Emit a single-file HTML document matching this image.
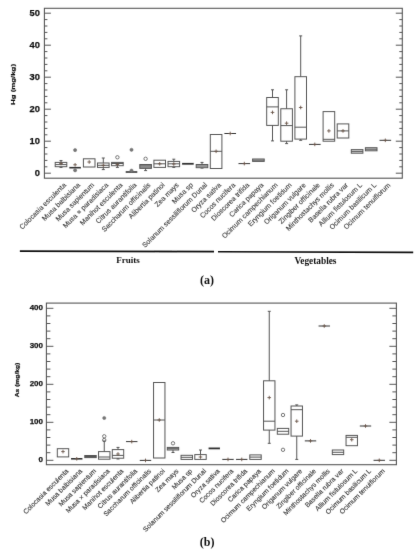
<!DOCTYPE html>
<html><head><meta charset="utf-8"><style>
html,body{margin:0;padding:0;background:#fff;}
body{width:416px;height:550px;overflow:hidden;}
svg{display:block;font-family:"Liberation Sans",sans-serif;}
</style></head><body>
<svg width="416" height="550" viewBox="0 0 416 550">
<defs><filter id="bl" x="0" y="0" width="416" height="550" filterUnits="userSpaceOnUse"><feConvolveMatrix order="3" kernelMatrix="0.00524 0.06192 0.00524 0.06192 0.73137 0.06192 0.00524 0.06192 0.00524" divisor="1" preserveAlpha="false" edgeMode="none"/></filter></defs>
<rect width="416" height="550" fill="#fff"/>
<g filter="url(#bl)">
<rect x="44.4" y="8.3" width="357.90000000000003" height="169.89999999999998" fill="none" stroke="#555" stroke-width="1.1"/>
<line x1="44.4" y1="173.20" x2="50.9" y2="173.20" stroke="#555" stroke-width="1"/>
<line x1="402.3" y1="173.20" x2="395.8" y2="173.20" stroke="#555" stroke-width="1"/>
<text transform="translate(39.8,175.85) scale(1,1.0)" font-size="9.3" font-weight="bold" text-anchor="end" fill="#111" stroke="#111" stroke-width="0.25">0</text>
<line x1="44.4" y1="166.80" x2="47.4" y2="166.80" stroke="#555" stroke-width="1"/>
<line x1="402.3" y1="166.80" x2="399.3" y2="166.80" stroke="#555" stroke-width="1"/>
<line x1="44.4" y1="160.40" x2="47.4" y2="160.40" stroke="#555" stroke-width="1"/>
<line x1="402.3" y1="160.40" x2="399.3" y2="160.40" stroke="#555" stroke-width="1"/>
<line x1="44.4" y1="154.00" x2="47.4" y2="154.00" stroke="#555" stroke-width="1"/>
<line x1="402.3" y1="154.00" x2="399.3" y2="154.00" stroke="#555" stroke-width="1"/>
<line x1="44.4" y1="147.60" x2="47.4" y2="147.60" stroke="#555" stroke-width="1"/>
<line x1="402.3" y1="147.60" x2="399.3" y2="147.60" stroke="#555" stroke-width="1"/>
<line x1="44.4" y1="141.20" x2="50.9" y2="141.20" stroke="#555" stroke-width="1"/>
<line x1="402.3" y1="141.20" x2="395.8" y2="141.20" stroke="#555" stroke-width="1"/>
<text transform="translate(39.8,143.85) scale(1,1.0)" font-size="9.3" font-weight="bold" text-anchor="end" fill="#111" stroke="#111" stroke-width="0.25">10</text>
<line x1="44.4" y1="134.80" x2="47.4" y2="134.80" stroke="#555" stroke-width="1"/>
<line x1="402.3" y1="134.80" x2="399.3" y2="134.80" stroke="#555" stroke-width="1"/>
<line x1="44.4" y1="128.40" x2="47.4" y2="128.40" stroke="#555" stroke-width="1"/>
<line x1="402.3" y1="128.40" x2="399.3" y2="128.40" stroke="#555" stroke-width="1"/>
<line x1="44.4" y1="122.00" x2="47.4" y2="122.00" stroke="#555" stroke-width="1"/>
<line x1="402.3" y1="122.00" x2="399.3" y2="122.00" stroke="#555" stroke-width="1"/>
<line x1="44.4" y1="115.60" x2="47.4" y2="115.60" stroke="#555" stroke-width="1"/>
<line x1="402.3" y1="115.60" x2="399.3" y2="115.60" stroke="#555" stroke-width="1"/>
<line x1="44.4" y1="109.20" x2="50.9" y2="109.20" stroke="#555" stroke-width="1"/>
<line x1="402.3" y1="109.20" x2="395.8" y2="109.20" stroke="#555" stroke-width="1"/>
<text transform="translate(39.8,111.85) scale(1,1.0)" font-size="9.3" font-weight="bold" text-anchor="end" fill="#111" stroke="#111" stroke-width="0.25">20</text>
<line x1="44.4" y1="102.80" x2="47.4" y2="102.80" stroke="#555" stroke-width="1"/>
<line x1="402.3" y1="102.80" x2="399.3" y2="102.80" stroke="#555" stroke-width="1"/>
<line x1="44.4" y1="96.40" x2="47.4" y2="96.40" stroke="#555" stroke-width="1"/>
<line x1="402.3" y1="96.40" x2="399.3" y2="96.40" stroke="#555" stroke-width="1"/>
<line x1="44.4" y1="90.00" x2="47.4" y2="90.00" stroke="#555" stroke-width="1"/>
<line x1="402.3" y1="90.00" x2="399.3" y2="90.00" stroke="#555" stroke-width="1"/>
<line x1="44.4" y1="83.60" x2="47.4" y2="83.60" stroke="#555" stroke-width="1"/>
<line x1="402.3" y1="83.60" x2="399.3" y2="83.60" stroke="#555" stroke-width="1"/>
<line x1="44.4" y1="77.20" x2="50.9" y2="77.20" stroke="#555" stroke-width="1"/>
<line x1="402.3" y1="77.20" x2="395.8" y2="77.20" stroke="#555" stroke-width="1"/>
<text transform="translate(39.8,79.85) scale(1,1.0)" font-size="9.3" font-weight="bold" text-anchor="end" fill="#111" stroke="#111" stroke-width="0.25">30</text>
<line x1="44.4" y1="70.80" x2="47.4" y2="70.80" stroke="#555" stroke-width="1"/>
<line x1="402.3" y1="70.80" x2="399.3" y2="70.80" stroke="#555" stroke-width="1"/>
<line x1="44.4" y1="64.40" x2="47.4" y2="64.40" stroke="#555" stroke-width="1"/>
<line x1="402.3" y1="64.40" x2="399.3" y2="64.40" stroke="#555" stroke-width="1"/>
<line x1="44.4" y1="58.00" x2="47.4" y2="58.00" stroke="#555" stroke-width="1"/>
<line x1="402.3" y1="58.00" x2="399.3" y2="58.00" stroke="#555" stroke-width="1"/>
<line x1="44.4" y1="51.60" x2="47.4" y2="51.60" stroke="#555" stroke-width="1"/>
<line x1="402.3" y1="51.60" x2="399.3" y2="51.60" stroke="#555" stroke-width="1"/>
<line x1="44.4" y1="45.20" x2="50.9" y2="45.20" stroke="#555" stroke-width="1"/>
<line x1="402.3" y1="45.20" x2="395.8" y2="45.20" stroke="#555" stroke-width="1"/>
<text transform="translate(39.8,47.85) scale(1,1.0)" font-size="9.3" font-weight="bold" text-anchor="end" fill="#111" stroke="#111" stroke-width="0.25">40</text>
<line x1="44.4" y1="38.80" x2="47.4" y2="38.80" stroke="#555" stroke-width="1"/>
<line x1="402.3" y1="38.80" x2="399.3" y2="38.80" stroke="#555" stroke-width="1"/>
<line x1="44.4" y1="32.40" x2="47.4" y2="32.40" stroke="#555" stroke-width="1"/>
<line x1="402.3" y1="32.40" x2="399.3" y2="32.40" stroke="#555" stroke-width="1"/>
<line x1="44.4" y1="26.00" x2="47.4" y2="26.00" stroke="#555" stroke-width="1"/>
<line x1="402.3" y1="26.00" x2="399.3" y2="26.00" stroke="#555" stroke-width="1"/>
<line x1="44.4" y1="19.60" x2="47.4" y2="19.60" stroke="#555" stroke-width="1"/>
<line x1="402.3" y1="19.60" x2="399.3" y2="19.60" stroke="#555" stroke-width="1"/>
<line x1="44.4" y1="13.20" x2="50.9" y2="13.20" stroke="#555" stroke-width="1"/>
<line x1="402.3" y1="13.20" x2="395.8" y2="13.20" stroke="#555" stroke-width="1"/>
<text transform="translate(39.8,15.85) scale(1,1.0)" font-size="9.3" font-weight="bold" text-anchor="end" fill="#111" stroke="#111" stroke-width="0.25">50</text>
<text transform="translate(15.2,84.5) rotate(-90)" font-size="6.2" font-weight="bold" text-anchor="middle" fill="#111" stroke="#111" stroke-width="0.2" textLength="41" lengthAdjust="spacingAndGlyphs">Hg (mg/kg)</text>
<text transform="translate(66.50,185.50) rotate(-45)" font-size="7.0" text-anchor="end" fill="#3a3a3a" stroke="#3a3a3a" stroke-width="0.12">Colocasia esculenta</text>
<text transform="translate(80.60,185.50) rotate(-45)" font-size="7.0" text-anchor="end" fill="#3a3a3a" stroke="#3a3a3a" stroke-width="0.12">Musa balbisiana</text>
<text transform="translate(94.70,185.50) rotate(-45)" font-size="7.0" text-anchor="end" fill="#3a3a3a" stroke="#3a3a3a" stroke-width="0.12">Musa sapientum</text>
<text transform="translate(108.80,185.50) rotate(-45)" font-size="7.0" text-anchor="end" fill="#3a3a3a" stroke="#3a3a3a" stroke-width="0.12">Musa × paradisiaca</text>
<text transform="translate(122.90,185.50) rotate(-45)" font-size="7.0" text-anchor="end" fill="#3a3a3a" stroke="#3a3a3a" stroke-width="0.12">Manihot esculenta</text>
<text transform="translate(137.00,185.50) rotate(-45)" font-size="7.0" text-anchor="end" fill="#3a3a3a" stroke="#3a3a3a" stroke-width="0.12">Citrus aurantifolia</text>
<text transform="translate(151.10,185.50) rotate(-45)" font-size="7.0" text-anchor="end" fill="#3a3a3a" stroke="#3a3a3a" stroke-width="0.12">Saccharum officinalis</text>
<text transform="translate(165.20,185.50) rotate(-45)" font-size="7.0" text-anchor="end" fill="#3a3a3a" stroke="#3a3a3a" stroke-width="0.12">Alibertia patinoi</text>
<text transform="translate(179.30,185.50) rotate(-45)" font-size="7.0" text-anchor="end" fill="#3a3a3a" stroke="#3a3a3a" stroke-width="0.12">Zea mays</text>
<text transform="translate(193.40,185.50) rotate(-45)" font-size="7.0" text-anchor="end" fill="#3a3a3a" stroke="#3a3a3a" stroke-width="0.12">Musa sp</text>
<text transform="translate(207.50,185.50) rotate(-45)" font-size="7.0" text-anchor="end" fill="#3a3a3a" stroke="#3a3a3a" stroke-width="0.12">Solanum sessiliflorum Dunal</text>
<text transform="translate(221.60,185.50) rotate(-45)" font-size="7.0" text-anchor="end" fill="#3a3a3a" stroke="#3a3a3a" stroke-width="0.12">Oryza sativa</text>
<text transform="translate(235.70,185.50) rotate(-45)" font-size="7.0" text-anchor="end" fill="#3a3a3a" stroke="#3a3a3a" stroke-width="0.12">Cocos nucifera</text>
<text transform="translate(249.80,185.50) rotate(-45)" font-size="7.0" text-anchor="end" fill="#3a3a3a" stroke="#3a3a3a" stroke-width="0.12">Dioscorea trifida</text>
<text transform="translate(263.90,185.50) rotate(-45)" font-size="7.0" text-anchor="end" fill="#3a3a3a" stroke="#3a3a3a" stroke-width="0.12">Carica papaya</text>
<text transform="translate(278.00,185.50) rotate(-45)" font-size="7.0" text-anchor="end" fill="#3a3a3a" stroke="#3a3a3a" stroke-width="0.12">Ocimum campechianum</text>
<text transform="translate(292.10,185.50) rotate(-45)" font-size="7.0" text-anchor="end" fill="#3a3a3a" stroke="#3a3a3a" stroke-width="0.12">Eryngium foetidum</text>
<text transform="translate(306.20,185.50) rotate(-45)" font-size="7.0" text-anchor="end" fill="#3a3a3a" stroke="#3a3a3a" stroke-width="0.12">Origanum vulgare</text>
<text transform="translate(320.30,185.50) rotate(-45)" font-size="7.0" text-anchor="end" fill="#3a3a3a" stroke="#3a3a3a" stroke-width="0.12">Zingiber officinale</text>
<text transform="translate(334.40,185.50) rotate(-45)" font-size="7.0" text-anchor="end" fill="#3a3a3a" stroke="#3a3a3a" stroke-width="0.12">Minthostachys mollis</text>
<text transform="translate(348.50,185.50) rotate(-45)" font-size="7.0" text-anchor="end" fill="#3a3a3a" stroke="#3a3a3a" stroke-width="0.12">Basella rubra var</text>
<text transform="translate(362.60,185.50) rotate(-45)" font-size="7.0" text-anchor="end" fill="#3a3a3a" stroke="#3a3a3a" stroke-width="0.12">Allium fistulosum L</text>
<text transform="translate(376.70,185.50) rotate(-45)" font-size="7.0" text-anchor="end" fill="#3a3a3a" stroke="#3a3a3a" stroke-width="0.12">Ocimum basilicum L</text>
<text transform="translate(390.80,185.50) rotate(-45)" font-size="7.0" text-anchor="end" fill="#3a3a3a" stroke="#3a3a3a" stroke-width="0.12">Ocimum tenuiflorum</text>
<line x1="61.0" y1="160.6" x2="61.0" y2="162.4" stroke="#555" stroke-width="1"/>
<line x1="59.5" y1="160.6" x2="62.5" y2="160.6" stroke="#555" stroke-width="1"/>
<line x1="61.0" y1="166.7" x2="61.0" y2="167.4" stroke="#555" stroke-width="1"/>
<line x1="59.5" y1="167.4" x2="62.5" y2="167.4" stroke="#555" stroke-width="1"/>
<rect x="55.20" y="162.4" width="11.6" height="4.30" fill="none" stroke="#555" stroke-width="1"/>
<line x1="55.20" y1="164.6" x2="66.80" y2="164.6" stroke="#555" stroke-width="1"/>
<path d="M59.2 163.5H62.8M61.0 161.7V165.3" stroke="#6a5548" stroke-width="0.9"/>
<line x1="69.30" y1="167.7" x2="80.90" y2="167.7" stroke="#333" stroke-width="1.6"/>
<path d="M73.3 164.8H76.89999999999999M75.1 163.0V166.60000000000002" stroke="#6a5548" stroke-width="0.9"/>
<circle cx="75.1" cy="150.1" r="1.6" fill="#777" stroke="#666" stroke-width="0.5"/>
<circle cx="75.1" cy="170.3" r="1.6" fill="#777" stroke="#666" stroke-width="0.5"/>
<rect x="83.40" y="158.8" width="11.6" height="8.20" fill="none" stroke="#555" stroke-width="1"/>
<path d="M87.4 162H91.0M89.2 160.2V163.8" stroke="#6a5548" stroke-width="0.9"/>
<line x1="103.3" y1="158" x2="103.3" y2="163" stroke="#555" stroke-width="1"/>
<line x1="101.8" y1="158" x2="104.8" y2="158" stroke="#555" stroke-width="1"/>
<line x1="103.3" y1="167.4" x2="103.3" y2="169.6" stroke="#555" stroke-width="1"/>
<line x1="101.8" y1="169.6" x2="104.8" y2="169.6" stroke="#555" stroke-width="1"/>
<rect x="97.50" y="163" width="11.6" height="4.40" fill="none" stroke="#555" stroke-width="1"/>
<line x1="97.50" y1="165.3" x2="109.10" y2="165.3" stroke="#555" stroke-width="1"/>
<path d="M101.5 165.3H105.1M103.3 163.5V167.10000000000002" stroke="#6a5548" stroke-width="0.9"/>
<line x1="117.4" y1="165.7" x2="117.4" y2="167.4" stroke="#555" stroke-width="1"/>
<line x1="115.9" y1="167.4" x2="118.9" y2="167.4" stroke="#555" stroke-width="1"/>
<rect x="111.60" y="162.4" width="11.6" height="3.30" fill="none" stroke="#555" stroke-width="1"/>
<line x1="111.60" y1="163.5" x2="123.20" y2="163.5" stroke="#555" stroke-width="1"/>
<path d="M115.60000000000001 164.5H119.2M117.4 162.7V166.3" stroke="#6a5548" stroke-width="0.9"/>
<circle cx="117.4" cy="157.3" r="1.7" fill="none" stroke="#555" stroke-width="0.8"/>
<line x1="125.70" y1="172" x2="137.30" y2="172" stroke="#333" stroke-width="1.6"/>
<circle cx="131.5" cy="149.8" r="1.6" fill="#777" stroke="#666" stroke-width="0.5"/>
<circle cx="131.5" cy="170.6" r="1.6" fill="#777" stroke="#666" stroke-width="0.5"/>
<line x1="145.6" y1="168.4" x2="145.6" y2="170.6" stroke="#555" stroke-width="1"/>
<line x1="144.1" y1="170.6" x2="147.1" y2="170.6" stroke="#555" stroke-width="1"/>
<rect x="139.80" y="164.5" width="11.6" height="3.90" fill="#d8d8d8" stroke="#555" stroke-width="1"/>
<line x1="139.80" y1="165.8" x2="151.40" y2="165.8" stroke="#555" stroke-width="1"/>
<line x1="139.80" y1="167.1" x2="151.40" y2="167.1" stroke="#555" stroke-width="1"/>
<circle cx="145.6" cy="158.8" r="1.7" fill="none" stroke="#555" stroke-width="0.8"/>
<rect x="153.90" y="160.2" width="11.6" height="7.20" fill="none" stroke="#555" stroke-width="1"/>
<line x1="153.90" y1="163.8" x2="165.50" y2="163.8" stroke="#555" stroke-width="1"/>
<path d="M157.89999999999998 163.8H161.5M159.7 162.0V165.60000000000002" stroke="#6a5548" stroke-width="0.9"/>
<line x1="173.8" y1="159.2" x2="173.8" y2="161.4" stroke="#555" stroke-width="1"/>
<line x1="172.3" y1="159.2" x2="175.3" y2="159.2" stroke="#555" stroke-width="1"/>
<line x1="173.8" y1="166.7" x2="173.8" y2="167.4" stroke="#555" stroke-width="1"/>
<line x1="172.3" y1="167.4" x2="175.3" y2="167.4" stroke="#555" stroke-width="1"/>
<rect x="168.00" y="161.4" width="11.6" height="5.30" fill="none" stroke="#555" stroke-width="1"/>
<line x1="168.00" y1="163.8" x2="179.60" y2="163.8" stroke="#555" stroke-width="1"/>
<path d="M172.0 164H175.60000000000002M173.8 162.2V165.8" stroke="#6a5548" stroke-width="0.9"/>
<line x1="182.10" y1="163.8" x2="193.70" y2="163.8" stroke="#333" stroke-width="1.8"/>
<line x1="202.0" y1="162.4" x2="202.0" y2="164.5" stroke="#555" stroke-width="1"/>
<line x1="200.5" y1="162.4" x2="203.5" y2="162.4" stroke="#555" stroke-width="1"/>
<line x1="202.0" y1="167.7" x2="202.0" y2="168.1" stroke="#555" stroke-width="1"/>
<line x1="200.5" y1="168.1" x2="203.5" y2="168.1" stroke="#555" stroke-width="1"/>
<rect x="196.20" y="164.5" width="11.6" height="3.20" fill="#d4d4d4" stroke="#555" stroke-width="1"/>
<line x1="196.20" y1="166" x2="207.80" y2="166" stroke="#555" stroke-width="1"/>
<rect x="210.30" y="134.5" width="11.6" height="34.00" fill="none" stroke="#555" stroke-width="1"/>
<line x1="210.30" y1="151.3" x2="221.90" y2="151.3" stroke="#555" stroke-width="1"/>
<path d="M214.29999999999998 151.3H217.9M216.1 149.5V153.10000000000002" stroke="#6a5548" stroke-width="0.9"/>
<line x1="224.40" y1="133.5" x2="236.00" y2="133.5" stroke="#333" stroke-width="1"/>
<path d="M228.39999999999998 133.5H232.0M230.2 131.7V135.3" stroke="#6a5548" stroke-width="0.9"/>
<line x1="238.50" y1="163.6" x2="250.10" y2="163.6" stroke="#333" stroke-width="1"/>
<path d="M242.49999999999997 163.6H246.1M244.29999999999998 161.79999999999998V165.4" stroke="#6a5548" stroke-width="0.9"/>
<rect x="252.60" y="159" width="11.6" height="2.40" fill="#d8d8d8" stroke="#555" stroke-width="1"/>
<line x1="252.60" y1="160.2" x2="264.20" y2="160.2" stroke="#555" stroke-width="1"/>
<line x1="272.5" y1="89.8" x2="272.5" y2="97.5" stroke="#555" stroke-width="1"/>
<line x1="271.0" y1="89.8" x2="274.0" y2="89.8" stroke="#555" stroke-width="1"/>
<line x1="272.5" y1="125.4" x2="272.5" y2="140.9" stroke="#555" stroke-width="1"/>
<line x1="271.0" y1="140.9" x2="274.0" y2="140.9" stroke="#555" stroke-width="1"/>
<rect x="266.70" y="97.5" width="11.6" height="27.90" fill="none" stroke="#555" stroke-width="1"/>
<line x1="266.70" y1="106.9" x2="278.30" y2="106.9" stroke="#555" stroke-width="1"/>
<path d="M270.7 112.4H274.3M272.5 110.60000000000001V114.2" stroke="#6a5548" stroke-width="0.9"/>
<line x1="286.6" y1="89.8" x2="286.6" y2="108.75" stroke="#555" stroke-width="1"/>
<line x1="285.1" y1="89.8" x2="288.1" y2="89.8" stroke="#555" stroke-width="1"/>
<line x1="286.6" y1="141.2" x2="286.6" y2="143.6" stroke="#555" stroke-width="1"/>
<line x1="285.1" y1="143.6" x2="288.1" y2="143.6" stroke="#555" stroke-width="1"/>
<rect x="280.80" y="108.75" width="11.6" height="32.45" fill="none" stroke="#555" stroke-width="1"/>
<line x1="280.80" y1="125.6" x2="292.40" y2="125.6" stroke="#555" stroke-width="1"/>
<path d="M284.8 123.2H288.40000000000003M286.6 121.4V125.0" stroke="#6a5548" stroke-width="0.9"/>
<line x1="300.7" y1="35.9" x2="300.7" y2="76.7" stroke="#555" stroke-width="1"/>
<line x1="299.2" y1="35.9" x2="302.2" y2="35.9" stroke="#555" stroke-width="1"/>
<line x1="300.7" y1="139.1" x2="300.7" y2="140.3" stroke="#555" stroke-width="1"/>
<line x1="299.2" y1="140.3" x2="302.2" y2="140.3" stroke="#555" stroke-width="1"/>
<rect x="294.90" y="76.7" width="11.6" height="62.40" fill="none" stroke="#555" stroke-width="1"/>
<line x1="294.90" y1="127.2" x2="306.50" y2="127.2" stroke="#555" stroke-width="1"/>
<path d="M298.9 107.5H302.5M300.7 105.7V109.3" stroke="#6a5548" stroke-width="0.9"/>
<line x1="309.00" y1="144.4" x2="320.60" y2="144.4" stroke="#333" stroke-width="1"/>
<path d="M312.99999999999994 144.4H316.59999999999997M314.79999999999995 142.6V146.20000000000002" stroke="#6a5548" stroke-width="0.9"/>
<rect x="323.10" y="111.6" width="11.6" height="29.60" fill="none" stroke="#555" stroke-width="1"/>
<line x1="323.10" y1="139.3" x2="334.70" y2="139.3" stroke="#555" stroke-width="1"/>
<path d="M327.09999999999997 130.9H330.7M328.9 129.1V132.70000000000002" stroke="#6a5548" stroke-width="0.9"/>
<rect x="337.20" y="123.9" width="11.6" height="14.10" fill="none" stroke="#555" stroke-width="1"/>
<line x1="337.20" y1="130.9" x2="348.80" y2="130.9" stroke="#555" stroke-width="1"/>
<path d="M341.2 130.9H344.8M343.0 129.1V132.70000000000002" stroke="#6a5548" stroke-width="0.9"/>
<rect x="351.30" y="149.6" width="11.6" height="3.60" fill="#d4d4d4" stroke="#555" stroke-width="1"/>
<line x1="351.30" y1="151.4" x2="362.90" y2="151.4" stroke="#555" stroke-width="1"/>
<rect x="365.40" y="147.7" width="11.6" height="3.10" fill="#d4d4d4" stroke="#555" stroke-width="1"/>
<line x1="365.40" y1="149.2" x2="377.00" y2="149.2" stroke="#555" stroke-width="1"/>
<line x1="379.50" y1="140.3" x2="391.10" y2="140.3" stroke="#333" stroke-width="1"/>
<path d="M383.5 140.3H387.1M385.3 138.5V142.10000000000002" stroke="#6a5548" stroke-width="0.9"/>
<rect x="46.4" y="303.1" width="350.0" height="161.59999999999997" fill="none" stroke="#555" stroke-width="1.1"/>
<line x1="46.4" y1="460.30" x2="53.4" y2="460.30" stroke="#555" stroke-width="1"/>
<line x1="396.4" y1="460.30" x2="389.4" y2="460.30" stroke="#555" stroke-width="1"/>
<text transform="translate(43.0,462.48) scale(1,1.0)" font-size="8" font-weight="bold" text-anchor="end" fill="#111" stroke="#111" stroke-width="0.25">0</text>
<line x1="46.4" y1="452.70" x2="50.4" y2="452.70" stroke="#555" stroke-width="1"/>
<line x1="396.4" y1="452.70" x2="392.4" y2="452.70" stroke="#555" stroke-width="1"/>
<line x1="46.4" y1="445.10" x2="50.4" y2="445.10" stroke="#555" stroke-width="1"/>
<line x1="396.4" y1="445.10" x2="392.4" y2="445.10" stroke="#555" stroke-width="1"/>
<line x1="46.4" y1="437.50" x2="50.4" y2="437.50" stroke="#555" stroke-width="1"/>
<line x1="396.4" y1="437.50" x2="392.4" y2="437.50" stroke="#555" stroke-width="1"/>
<line x1="46.4" y1="429.90" x2="50.4" y2="429.90" stroke="#555" stroke-width="1"/>
<line x1="396.4" y1="429.90" x2="392.4" y2="429.90" stroke="#555" stroke-width="1"/>
<line x1="46.4" y1="422.30" x2="53.4" y2="422.30" stroke="#555" stroke-width="1"/>
<line x1="396.4" y1="422.30" x2="389.4" y2="422.30" stroke="#555" stroke-width="1"/>
<text transform="translate(43.0,424.48) scale(1,1.0)" font-size="8" font-weight="bold" text-anchor="end" fill="#111" stroke="#111" stroke-width="0.25">100</text>
<line x1="46.4" y1="414.70" x2="50.4" y2="414.70" stroke="#555" stroke-width="1"/>
<line x1="396.4" y1="414.70" x2="392.4" y2="414.70" stroke="#555" stroke-width="1"/>
<line x1="46.4" y1="407.10" x2="50.4" y2="407.10" stroke="#555" stroke-width="1"/>
<line x1="396.4" y1="407.10" x2="392.4" y2="407.10" stroke="#555" stroke-width="1"/>
<line x1="46.4" y1="399.50" x2="50.4" y2="399.50" stroke="#555" stroke-width="1"/>
<line x1="396.4" y1="399.50" x2="392.4" y2="399.50" stroke="#555" stroke-width="1"/>
<line x1="46.4" y1="391.90" x2="50.4" y2="391.90" stroke="#555" stroke-width="1"/>
<line x1="396.4" y1="391.90" x2="392.4" y2="391.90" stroke="#555" stroke-width="1"/>
<line x1="46.4" y1="384.30" x2="53.4" y2="384.30" stroke="#555" stroke-width="1"/>
<line x1="396.4" y1="384.30" x2="389.4" y2="384.30" stroke="#555" stroke-width="1"/>
<text transform="translate(43.0,386.48) scale(1,1.0)" font-size="8" font-weight="bold" text-anchor="end" fill="#111" stroke="#111" stroke-width="0.25">200</text>
<line x1="46.4" y1="376.70" x2="50.4" y2="376.70" stroke="#555" stroke-width="1"/>
<line x1="396.4" y1="376.70" x2="392.4" y2="376.70" stroke="#555" stroke-width="1"/>
<line x1="46.4" y1="369.10" x2="50.4" y2="369.10" stroke="#555" stroke-width="1"/>
<line x1="396.4" y1="369.10" x2="392.4" y2="369.10" stroke="#555" stroke-width="1"/>
<line x1="46.4" y1="361.50" x2="50.4" y2="361.50" stroke="#555" stroke-width="1"/>
<line x1="396.4" y1="361.50" x2="392.4" y2="361.50" stroke="#555" stroke-width="1"/>
<line x1="46.4" y1="353.90" x2="50.4" y2="353.90" stroke="#555" stroke-width="1"/>
<line x1="396.4" y1="353.90" x2="392.4" y2="353.90" stroke="#555" stroke-width="1"/>
<line x1="46.4" y1="346.30" x2="53.4" y2="346.30" stroke="#555" stroke-width="1"/>
<line x1="396.4" y1="346.30" x2="389.4" y2="346.30" stroke="#555" stroke-width="1"/>
<text transform="translate(43.0,348.48) scale(1,1.0)" font-size="8" font-weight="bold" text-anchor="end" fill="#111" stroke="#111" stroke-width="0.25">300</text>
<line x1="46.4" y1="338.70" x2="50.4" y2="338.70" stroke="#555" stroke-width="1"/>
<line x1="396.4" y1="338.70" x2="392.4" y2="338.70" stroke="#555" stroke-width="1"/>
<line x1="46.4" y1="331.10" x2="50.4" y2="331.10" stroke="#555" stroke-width="1"/>
<line x1="396.4" y1="331.10" x2="392.4" y2="331.10" stroke="#555" stroke-width="1"/>
<line x1="46.4" y1="323.50" x2="50.4" y2="323.50" stroke="#555" stroke-width="1"/>
<line x1="396.4" y1="323.50" x2="392.4" y2="323.50" stroke="#555" stroke-width="1"/>
<line x1="46.4" y1="315.90" x2="50.4" y2="315.90" stroke="#555" stroke-width="1"/>
<line x1="396.4" y1="315.90" x2="392.4" y2="315.90" stroke="#555" stroke-width="1"/>
<line x1="46.4" y1="308.30" x2="53.4" y2="308.30" stroke="#555" stroke-width="1"/>
<line x1="396.4" y1="308.30" x2="389.4" y2="308.30" stroke="#555" stroke-width="1"/>
<text transform="translate(43.0,310.48) scale(1,1.0)" font-size="8" font-weight="bold" text-anchor="end" fill="#111" stroke="#111" stroke-width="0.25">400</text>
<text transform="translate(19.2,380) rotate(-90)" font-size="5.6" font-weight="bold" text-anchor="middle" fill="#111" stroke="#111" stroke-width="0.2" textLength="34.5" lengthAdjust="spacingAndGlyphs">As (mg/kg)</text>
<text transform="translate(69.00,471.50) rotate(-45)" font-size="6.8" text-anchor="end" fill="#3a3a3a" stroke="#3a3a3a" stroke-width="0.12">Colocasia esculenta</text>
<text transform="translate(82.75,471.50) rotate(-45)" font-size="6.8" text-anchor="end" fill="#3a3a3a" stroke="#3a3a3a" stroke-width="0.12">Musa balbisiana</text>
<text transform="translate(96.50,471.50) rotate(-45)" font-size="6.8" text-anchor="end" fill="#3a3a3a" stroke="#3a3a3a" stroke-width="0.12">Musa sapientum</text>
<text transform="translate(110.25,471.50) rotate(-45)" font-size="6.8" text-anchor="end" fill="#3a3a3a" stroke="#3a3a3a" stroke-width="0.12">Musa × paradisiaca</text>
<text transform="translate(124.00,471.50) rotate(-45)" font-size="6.8" text-anchor="end" fill="#3a3a3a" stroke="#3a3a3a" stroke-width="0.12">Manihot esculenta</text>
<text transform="translate(137.75,471.50) rotate(-45)" font-size="6.8" text-anchor="end" fill="#3a3a3a" stroke="#3a3a3a" stroke-width="0.12">Citrus aurantifolia</text>
<text transform="translate(151.50,471.50) rotate(-45)" font-size="6.8" text-anchor="end" fill="#3a3a3a" stroke="#3a3a3a" stroke-width="0.12">Saccharum officinalis</text>
<text transform="translate(165.25,471.50) rotate(-45)" font-size="6.8" text-anchor="end" fill="#3a3a3a" stroke="#3a3a3a" stroke-width="0.12">Alibertia patinoi</text>
<text transform="translate(179.00,471.50) rotate(-45)" font-size="6.8" text-anchor="end" fill="#3a3a3a" stroke="#3a3a3a" stroke-width="0.12">Zea mays</text>
<text transform="translate(192.75,471.50) rotate(-45)" font-size="6.8" text-anchor="end" fill="#3a3a3a" stroke="#3a3a3a" stroke-width="0.12">Musa sp</text>
<text transform="translate(206.50,471.50) rotate(-45)" font-size="6.8" text-anchor="end" fill="#3a3a3a" stroke="#3a3a3a" stroke-width="0.12">Solanum sessiliflorum Dunal</text>
<text transform="translate(220.25,471.50) rotate(-45)" font-size="6.8" text-anchor="end" fill="#3a3a3a" stroke="#3a3a3a" stroke-width="0.12">Oryza sativa</text>
<text transform="translate(234.00,471.50) rotate(-45)" font-size="6.8" text-anchor="end" fill="#3a3a3a" stroke="#3a3a3a" stroke-width="0.12">Cocos nucifera</text>
<text transform="translate(247.75,471.50) rotate(-45)" font-size="6.8" text-anchor="end" fill="#3a3a3a" stroke="#3a3a3a" stroke-width="0.12">Dioscorea trifida</text>
<text transform="translate(261.50,471.50) rotate(-45)" font-size="6.8" text-anchor="end" fill="#3a3a3a" stroke="#3a3a3a" stroke-width="0.12">Carica papaya</text>
<text transform="translate(275.25,471.50) rotate(-45)" font-size="6.8" text-anchor="end" fill="#3a3a3a" stroke="#3a3a3a" stroke-width="0.12">Ocimum campechianum</text>
<text transform="translate(289.00,471.50) rotate(-45)" font-size="6.8" text-anchor="end" fill="#3a3a3a" stroke="#3a3a3a" stroke-width="0.12">Eryngium foetidum</text>
<text transform="translate(302.75,471.50) rotate(-45)" font-size="6.8" text-anchor="end" fill="#3a3a3a" stroke="#3a3a3a" stroke-width="0.12">Origanum vulgare</text>
<text transform="translate(316.50,471.50) rotate(-45)" font-size="6.8" text-anchor="end" fill="#3a3a3a" stroke="#3a3a3a" stroke-width="0.12">Zingiber officinale</text>
<text transform="translate(330.25,471.50) rotate(-45)" font-size="6.8" text-anchor="end" fill="#3a3a3a" stroke="#3a3a3a" stroke-width="0.12">Minthostachys mollis</text>
<text transform="translate(344.00,471.50) rotate(-45)" font-size="6.8" text-anchor="end" fill="#3a3a3a" stroke="#3a3a3a" stroke-width="0.12">Basella rubra var</text>
<text transform="translate(357.75,471.50) rotate(-45)" font-size="6.8" text-anchor="end" fill="#3a3a3a" stroke="#3a3a3a" stroke-width="0.12">Allium fistulosum L</text>
<text transform="translate(371.50,471.50) rotate(-45)" font-size="6.8" text-anchor="end" fill="#3a3a3a" stroke="#3a3a3a" stroke-width="0.12">Ocimum basilicum L</text>
<text transform="translate(385.25,471.50) rotate(-45)" font-size="6.8" text-anchor="end" fill="#3a3a3a" stroke="#3a3a3a" stroke-width="0.12">Ocimum tenuiflorum</text>
<rect x="57.30" y="448.7" width="11.4" height="8.20" fill="none" stroke="#555" stroke-width="1"/>
<path d="M61.2 451.6H64.8M63.0 449.8V453.40000000000003" stroke="#6a5548" stroke-width="0.9"/>
<line x1="71.05" y1="458.8" x2="82.45" y2="458.8" stroke="#333" stroke-width="1.6"/>
<path d="M74.95 458.8H78.55M76.75 457.0V460.6" stroke="#6a5548" stroke-width="0.9"/>
<rect x="84.80" y="455.5" width="11.4" height="2.10" fill="#555" stroke="#555" stroke-width="1"/>
<line x1="104.25" y1="441" x2="104.25" y2="451.6" stroke="#555" stroke-width="1"/>
<line x1="102.75" y1="441" x2="105.75" y2="441" stroke="#555" stroke-width="1"/>
<rect x="98.55" y="451.6" width="11.4" height="7.60" fill="none" stroke="#555" stroke-width="1"/>
<line x1="98.55" y1="457" x2="109.95" y2="457" stroke="#555" stroke-width="1"/>
<circle cx="104.25" cy="436.3" r="1.7" fill="none" stroke="#555" stroke-width="0.8"/>
<circle cx="104.25" cy="440" r="1.7" fill="none" stroke="#555" stroke-width="0.8"/>
<circle cx="104.25" cy="418" r="1.6" fill="#777" stroke="#666" stroke-width="0.5"/>
<line x1="118.0" y1="447.4" x2="118.0" y2="449.6" stroke="#555" stroke-width="1"/>
<line x1="116.5" y1="447.4" x2="119.5" y2="447.4" stroke="#555" stroke-width="1"/>
<line x1="118.0" y1="458.2" x2="118.0" y2="459" stroke="#555" stroke-width="1"/>
<line x1="116.5" y1="459" x2="119.5" y2="459" stroke="#555" stroke-width="1"/>
<rect x="112.30" y="449.6" width="11.4" height="8.60" fill="none" stroke="#555" stroke-width="1"/>
<line x1="112.30" y1="455.4" x2="123.70" y2="455.4" stroke="#555" stroke-width="1"/>
<path d="M116.2 454H119.8M118.0 452.2V455.8" stroke="#6a5548" stroke-width="0.9"/>
<line x1="126.05" y1="441.6" x2="137.45" y2="441.6" stroke="#333" stroke-width="1"/>
<path d="M129.95 441.6H133.55M131.75 439.8V443.40000000000003" stroke="#6a5548" stroke-width="0.9"/>
<line x1="139.80" y1="460.4" x2="151.20" y2="460.4" stroke="#333" stroke-width="1"/>
<path d="M143.7 460.4H147.3M145.5 458.59999999999997V462.2" stroke="#6a5548" stroke-width="0.9"/>
<rect x="153.55" y="382.5" width="11.4" height="75.50" fill="none" stroke="#555" stroke-width="1"/>
<line x1="153.55" y1="420" x2="164.95" y2="420" stroke="#555" stroke-width="1"/>
<path d="M157.45 420H161.05M159.25 418.2V421.8" stroke="#6a5548" stroke-width="0.9"/>
<line x1="173.0" y1="450" x2="173.0" y2="452.5" stroke="#555" stroke-width="1"/>
<line x1="171.5" y1="452.5" x2="174.5" y2="452.5" stroke="#555" stroke-width="1"/>
<rect x="167.30" y="447.4" width="11.4" height="2.60" fill="#d8d8d8" stroke="#555" stroke-width="1"/>
<line x1="167.30" y1="448.7" x2="178.70" y2="448.7" stroke="#555" stroke-width="1"/>
<circle cx="173.0" cy="443.3" r="1.7" fill="none" stroke="#555" stroke-width="0.8"/>
<rect x="181.05" y="455.3" width="11.4" height="4.10" fill="none" stroke="#555" stroke-width="1"/>
<line x1="181.05" y1="457.3" x2="192.45" y2="457.3" stroke="#555" stroke-width="1"/>
<line x1="200.5" y1="450" x2="200.5" y2="454.6" stroke="#555" stroke-width="1"/>
<line x1="199.0" y1="450" x2="202.0" y2="450" stroke="#555" stroke-width="1"/>
<rect x="194.80" y="454.6" width="11.4" height="4.80" fill="none" stroke="#555" stroke-width="1"/>
<path d="M198.7 457H202.3M200.5 455.2V458.8" stroke="#6a5548" stroke-width="0.9"/>
<line x1="208.55" y1="448.4" x2="219.95" y2="448.4" stroke="#333" stroke-width="1.8"/>
<line x1="222.30" y1="459.4" x2="233.70" y2="459.4" stroke="#333" stroke-width="1"/>
<path d="M226.2 459.4H229.8M228.0 457.59999999999997V461.2" stroke="#6a5548" stroke-width="0.9"/>
<line x1="236.05" y1="459.4" x2="247.45" y2="459.4" stroke="#333" stroke-width="1"/>
<path d="M239.95 459.4H243.55M241.75 457.59999999999997V461.2" stroke="#6a5548" stroke-width="0.9"/>
<rect x="249.80" y="454.9" width="11.4" height="4.50" fill="none" stroke="#555" stroke-width="1"/>
<line x1="249.80" y1="457.1" x2="261.20" y2="457.1" stroke="#555" stroke-width="1"/>
<line x1="269.25" y1="311.3" x2="269.25" y2="380.8" stroke="#555" stroke-width="1"/>
<line x1="267.75" y1="311.3" x2="270.75" y2="311.3" stroke="#555" stroke-width="1"/>
<line x1="269.25" y1="430.1" x2="269.25" y2="443.3" stroke="#555" stroke-width="1"/>
<line x1="267.75" y1="443.3" x2="270.75" y2="443.3" stroke="#555" stroke-width="1"/>
<rect x="263.55" y="380.8" width="11.4" height="49.30" fill="none" stroke="#555" stroke-width="1"/>
<line x1="263.55" y1="421.2" x2="274.95" y2="421.2" stroke="#555" stroke-width="1"/>
<path d="M267.45 397.6H271.05M269.25 395.8V399.40000000000003" stroke="#6a5548" stroke-width="0.9"/>
<rect x="277.30" y="428.4" width="11.4" height="5.80" fill="none" stroke="#555" stroke-width="1"/>
<line x1="277.30" y1="431.3" x2="288.70" y2="431.3" stroke="#555" stroke-width="1"/>
<circle cx="283.0" cy="415" r="1.7" fill="none" stroke="#555" stroke-width="0.8"/>
<circle cx="283.0" cy="449.8" r="1.7" fill="none" stroke="#555" stroke-width="0.8"/>
<line x1="296.75" y1="404.9" x2="296.75" y2="406" stroke="#555" stroke-width="1"/>
<line x1="295.25" y1="404.9" x2="298.25" y2="404.9" stroke="#555" stroke-width="1"/>
<line x1="296.75" y1="436.1" x2="296.75" y2="459.4" stroke="#555" stroke-width="1"/>
<line x1="295.25" y1="459.4" x2="298.25" y2="459.4" stroke="#555" stroke-width="1"/>
<rect x="291.05" y="406" width="11.4" height="30.10" fill="none" stroke="#555" stroke-width="1"/>
<line x1="291.05" y1="409.7" x2="302.45" y2="409.7" stroke="#555" stroke-width="1"/>
<path d="M294.95 421.2H298.55M296.75 419.4V423.0" stroke="#6a5548" stroke-width="0.9"/>
<line x1="304.80" y1="440.9" x2="316.20" y2="440.9" stroke="#333" stroke-width="1"/>
<path d="M308.7 440.9H312.3M310.5 439.09999999999997V442.7" stroke="#6a5548" stroke-width="0.9"/>
<line x1="318.55" y1="326" x2="329.95" y2="326" stroke="#333" stroke-width="1"/>
<path d="M322.45 326H326.05M324.25 324.2V327.8" stroke="#6a5548" stroke-width="0.9"/>
<rect x="332.30" y="450" width="11.4" height="4.60" fill="none" stroke="#555" stroke-width="1"/>
<line x1="332.30" y1="452.3" x2="343.70" y2="452.3" stroke="#555" stroke-width="1"/>
<rect x="346.05" y="435.4" width="11.4" height="10.30" fill="none" stroke="#555" stroke-width="1"/>
<line x1="346.05" y1="437.3" x2="357.45" y2="437.3" stroke="#555" stroke-width="1"/>
<path d="M349.95 439.7H353.55M351.75 437.9V441.5" stroke="#6a5548" stroke-width="0.9"/>
<line x1="359.80" y1="426" x2="371.20" y2="426" stroke="#333" stroke-width="1"/>
<path d="M363.7 426H367.3M365.5 424.2V427.8" stroke="#6a5548" stroke-width="0.9"/>
<line x1="373.55" y1="460.3" x2="384.95" y2="460.3" stroke="#333" stroke-width="1"/>
<path d="M377.45 460.3H381.05M379.25 458.5V462.1" stroke="#6a5548" stroke-width="0.9"/>
<line x1="19.9" y1="251.1" x2="214" y2="251.6" stroke="#111" stroke-width="1.6"/>
<line x1="218" y1="251.7" x2="413.2" y2="252.4" stroke="#111" stroke-width="1.6"/>
<text x="128" y="263.3" font-family="Liberation Serif" font-weight="bold" font-size="9" text-anchor="middle" fill="#111">Fruits</text>
<text x="315.5" y="264" font-family="Liberation Serif" font-weight="bold" font-size="9.3" text-anchor="middle" fill="#111">Vegetables</text>
<text x="207.1" y="284.3" font-family="Liberation Serif" font-weight="bold" font-size="12" text-anchor="middle" fill="#111">(a)</text>
<text x="207.2" y="546.2" font-family="Liberation Serif" font-weight="bold" font-size="12" text-anchor="middle" fill="#111">(b)</text>
</g>
</svg>
</body></html>
